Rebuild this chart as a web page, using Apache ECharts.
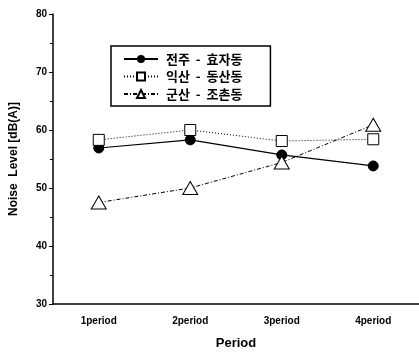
<!DOCTYPE html>
<html>
<head>
<meta charset="utf-8">
<script src="https://cdn.jsdelivr.net/npm/echarts@6/dist/echarts.min.js"></script>
<style>
html,body{margin:0;padding:0;background:#fff;}
#chart{width:419px;height:355px;}
</style>
</head>
<body>
<div id="chart"></div>
<script>
var periods = ['1period', '2period', '3period', '4period'];
var jeonju = [56.9, 58.3, 55.7, 53.8];
var iksan = [58.3, 60.0, 58.1, 58.4];
var gunsan = [47.5, 50.0, 54.4, 60.9];
var names = ['전주  -  효자동', '익산  -  동산동', '군산  -  조촌동'];

var myChart = echarts.init(document.getElementById('chart'));
var font = 'Liberation Sans, Arial, sans-serif';
var option = {
    backgroundColor: '#fff',
    animation: false,
    grid: {left: 50, right: 0, top: 14, bottom: 49},
    legend: {
        orient: 'vertical',
        left: 111,
        top: 46,
        padding: [6.5, 28, 5.5, 12],
        itemGap: 4.5,
        itemWidth: 34,
        itemHeight: 10,
        borderColor: '#000',
        borderWidth: 1.5,
        textStyle: {fontFamily: 'Noto Sans CJK KR', fontWeight: 'bold', fontSize: 13, color: '#000', padding: [0, 0, 0, 3]},
        data: names
    },
    xAxis: {
        type: 'category',
        data: periods,
        name: 'Period',
        nameLocation: 'middle',
        nameGap: 33,
        nameTextStyle: {fontFamily: font, fontWeight: 'bold', fontSize: 13, color: '#000'},
        axisLine: {lineStyle: {color: '#000', width: 1.5}},
        axisTick: {alignWithLabel: true, length: 4, lineStyle: {color: '#000'}},
        axisLabel: {fontFamily: font, fontWeight: 'bold', fontSize: 10, color: '#000', margin: 12}
    },
    yAxis: {
        type: 'value',
        min: 30,
        max: 80,
        interval: 10,
        name: 'Noise  Level [dB(A)]',
        nameLocation: 'middle',
        nameGap: 33,
        nameTextStyle: {fontFamily: font, fontWeight: 'bold', fontSize: 12, color: '#000'},
        axisLine: {show: true, lineStyle: {color: '#000', width: 1.5}},
        axisTick: {show: true, length: 4, lineStyle: {color: '#000'}},
        minorTick: {show: true, splitNumber: 2, length: 3, lineStyle: {color: '#000'}},
        splitLine: {show: false},
        axisLabel: {fontFamily: font, fontWeight: 'bold', fontSize: 10, color: '#000', margin: 6}
    },
    series: [{
        name: names[0],
        type: 'line',
        data: jeonju,
        symbol: 'circle',
        symbolSize: 10,
        lineStyle: {color: '#000', width: 1.2},
        itemStyle: {color: '#000', borderColor: '#000'}
    }, {
        name: names[1],
        type: 'line',
        data: iksan,
        symbol: 'rect',
        symbolSize: 11,
        lineStyle: {color: '#000', width: 1, type: [1, 2]},
        itemStyle: {color: '#fff', borderColor: '#000', borderWidth: 1}
    }, {
        name: names[2],
        type: 'line',
        data: gunsan,
        symbol: 'triangle',
        symbolSize: [15, 13],
        lineStyle: {color: '#000', width: 1, type: [4, 2, 1, 2]},
        itemStyle: {color: '#fff', borderColor: '#000', borderWidth: 1}
    }]
};
myChart.setOption(option);
</script>
</body>
</html>
